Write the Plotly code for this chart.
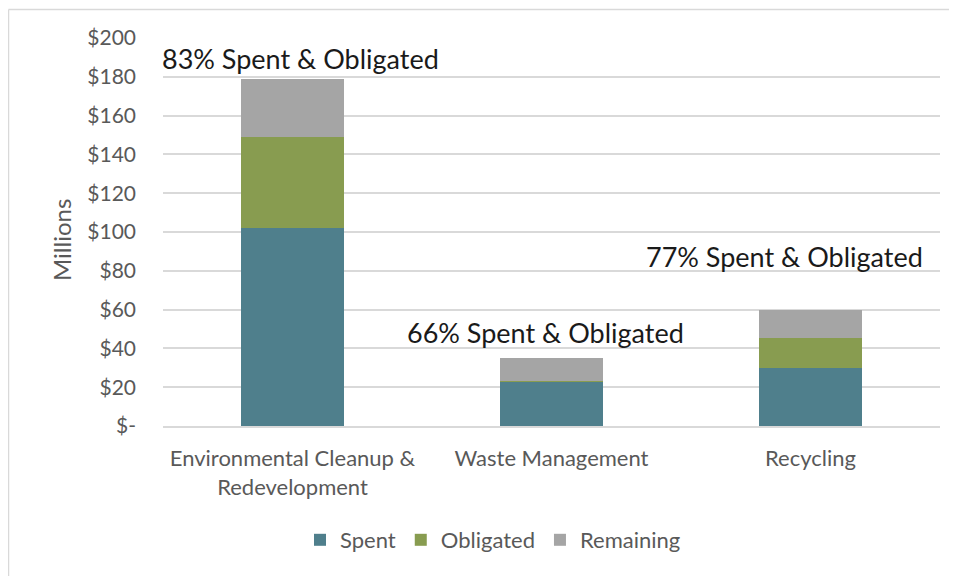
import plotly.graph_objects as go

categories = ["Environmental Cleanup &<br>Redevelopment", "Waste Management", "Recycling"]
spent = [102.3, 23.0, 30.1]
obligated = [46.8, 0.3, 15.4]
remaining = [30.0, 12.0, 14.5]
pct_labels = ["83% Spent & Obligated", "66% Spent & Obligated", "77% Spent & Obligated"]
tick_vals = [0, 20, 40, 60, 80, 100, 120, 140, 160, 180, 200]
tick_text = ["$-", "$20", "$40", "$60", "$80", "$100", "$120", "$140", "$160", "$180", "$200"]

FONT = "Lato"
GRAY = "#595959"

fig = go.Figure()
fig.add_trace(go.Bar(name="Spent", x=categories, y=spent, marker_color="#4F7F8C", marker_line_width=0))
fig.add_trace(go.Bar(name="Obligated", x=categories, y=obligated, marker_color="#889C50", marker_line_width=0))
fig.add_trace(go.Bar(name="Remaining", x=categories, y=remaining, marker_color="#A5A5A5", marker_line_width=0))

# page body has an 8px margin; work in absolute screen coordinates
OFF = 8
W, H = 957 - OFF, 576 - OFF
L, R, T, B = 163 - OFF, 17, 38 - OFF, 150
pw, ph = W - L - R, H - T - B

def px(x):
    return (x - OFF - L) / pw

def py(y):
    return (H - B - (y - OFF)) / ph

ann_pos = [(px(160), py(58), "left"), (px(545.5), py(332), "center"), (px(784.5), py(256), "center")]
annotations = []
for (ax, ay, anc), txt in zip(ann_pos, pct_labels):
    annotations.append(dict(x=ax, y=ay, xref="paper", yref="paper", text=txt, showarrow=False,
                            xanchor=anc, yanchor="middle", font=dict(family=FONT, size=27, color="#1a1a1a")))
annotations.append(dict(x=px(62), y=py(240), xref="paper", yref="paper", text="Millions", showarrow=False,
                        textangle=-90, xanchor="center", yanchor="middle",
                        font=dict(family=FONT, size=24, color=GRAY)))

shapes = [
    dict(type="line", xref="paper", yref="paper", x0=px(8.5), x1=px(960), y0=py(9.5), y1=py(9.5),
         line=dict(color="#D9D9D9", width=1.5)),
    dict(type="line", xref="paper", yref="paper", x0=px(8.5), x1=px(8.5), y0=py(9.5), y1=py(590),
         line=dict(color="#D9D9D9", width=1.5)),
]

fig.update_layout(
    barmode="stack",
    bargap=0.606,
    width=W, height=H,
    margin=dict(l=L, r=R, t=T, b=B),
    paper_bgcolor="white", plot_bgcolor="white",
    font=dict(family=FONT, size=21, color=GRAY),
    showlegend=True,
    legend=dict(orientation="h", x=px(493), y=py(540), xanchor="center", yanchor="middle",
                font=dict(family=FONT, size=22, color=GRAY), traceorder="normal",
                itemwidth=30),
    annotations=annotations,
    shapes=shapes,
)
fig.update_yaxes(range=[0, 200], tickvals=tick_vals, ticktext=tick_text, showgrid=True,
                 gridcolor="#D9D9D9", gridwidth=1.5, zeroline=False, showline=False,
                 ticklabelstandoff=26, tickfont=dict(family=FONT, size=21, color=GRAY))
fig.update_xaxes(showline=True, linecolor="#D9D9D9", linewidth=1.5, ticks="",
                 ticklabelstandoff=12, tickfont=dict(family=FONT, size=22, color=GRAY))

fig.write_html("out.html")
